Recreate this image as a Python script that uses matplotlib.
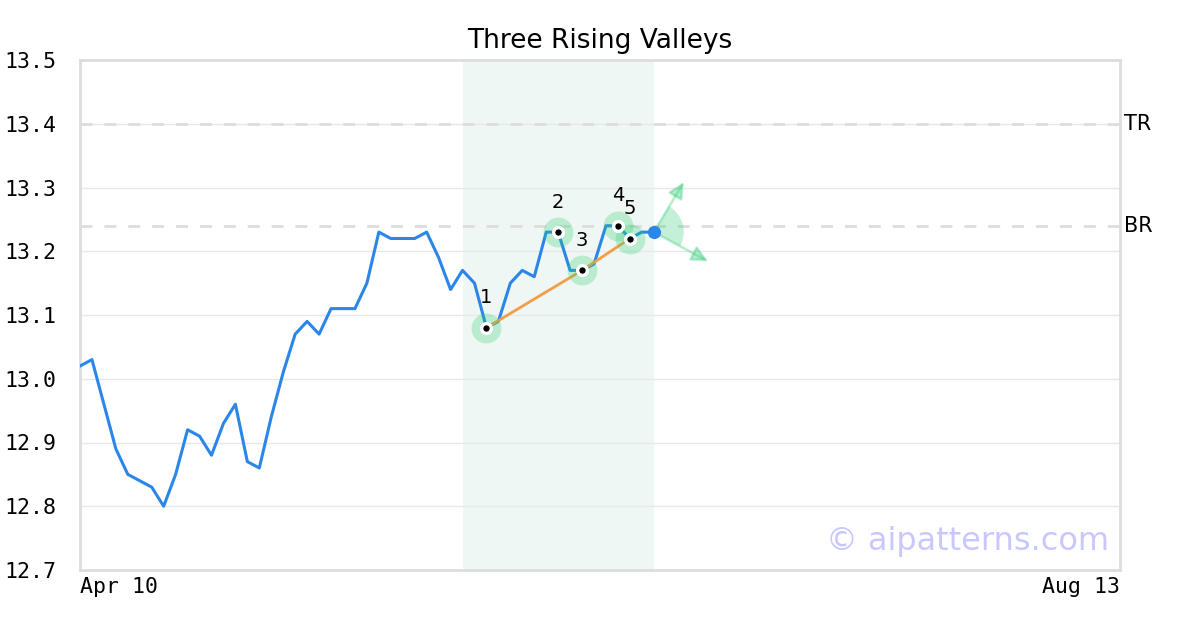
import matplotlib
matplotlib.use("Agg")
import matplotlib.pyplot as plt
from matplotlib.patches import Wedge
from matplotlib.transforms import ScaledTranslation

# price series (one value per bar, index based x axis)
prices = [13.02, 13.03, 12.96, 12.89, 12.85, 12.84, 12.83, 12.80, 12.85, 12.92,
          12.91, 12.88, 12.93, 12.96, 12.87, 12.86, 12.94, 13.01, 13.07, 13.09,
          13.07, 13.11, 13.11, 13.11, 13.15, 13.23, 13.22, 13.22, 13.22, 13.23,
          13.19, 13.14, 13.17, 13.15, 13.08, 13.09, 13.15, 13.17, 13.16, 13.23,
          13.23, 13.17, 13.17, 13.18, 13.24, 13.24, 13.22, 13.23, 13.23]
n_total = 88  # bars covered by the x axis
x_labels = ["Apr 10", "Aug 13"]

# pattern pivots
pivot_idx = [34, 40, 42, 45, 46]
pivot_names = ["1", "2", "3", "4", "5"]
valley_idx = [34, 42, 46]
pattern_span = (32, 48)

# resistance levels
levels = {"TR": 13.40, "BR": 13.24}

y_ticks = [12.7, 12.8, 12.9, 13.0, 13.1, 13.2, 13.3, 13.4, 13.5]

blue = "#2a86e8"
green = "#2ecc71"
grey = "#dddddd"

fig = plt.figure(figsize=(12, 6.3), dpi=100)
ax = fig.add_axes([80 / 1200, 60 / 630, 1040 / 1200, 510 / 630])

x = list(range(len(prices)))
ax.axvspan(*pattern_span, color="#eff7f4", zorder=0, lw=0)

for yv in y_ticks[1:-1]:
    ax.axhline(yv, color="#e8e8e8", lw=1, zorder=1)
for name, yv in levels.items():
    ax.axhline(yv, color=grey, lw=2, dashes=(4.3, 4.3), zorder=1)
    ax.text(1.004, yv, name, transform=ax.get_yaxis_transform(), va="center",
            ha="left", fontsize=15, family="DejaVu Sans")

ax.plot(x, prices, color=blue, lw=2.2, zorder=3)

# line through the rising valleys
ax.plot(valley_idx, [prices[i] for i in valley_idx], color="#f59d45", lw=2.0, zorder=4)

px = pivot_idx
py = [prices[i] for i in pivot_idx]
ax.plot(px, py, "o", ms=21.5, color=green, alpha=0.28, mec="none", zorder=4)
ax.plot(px, py, "o", ms=7, mfc="black", mec="white", mew=2.4, zorder=5)
for i, name in zip(pivot_idx, pivot_names):
    ax.annotate(name, (i, prices[i]), xytext=(0, 30), textcoords="offset pixels",
                ha="center", va="center", fontsize=14, zorder=6)

# last bar and projection arrows
lx, ly = len(prices) - 1, prices[-1]
trans = fig.dpi_scale_trans + ScaledTranslation(lx, ly, ax.transData)
ax.add_patch(Wedge((0, 0), 0.30, -28, 59, transform=trans, color=green,
                   alpha=0.28, lw=0, zorder=3))
for dx, dy in [(30, 50), (54, -29)]:
    ax.annotate("", xy=(lx, ly), xytext=(dx, dy), textcoords="offset pixels",
                arrowprops=dict(arrowstyle="<|-,head_length=0.8,head_width=0.4",
                                mutation_scale=12, color=green, alpha=0.35, lw=1.8,
                                shrinkA=0, shrinkB=0), zorder=3)
ax.plot([lx], [ly], "o", ms=8.5, color=blue, zorder=6)

ax.set_xlim(0, n_total - 1)
ax.set_ylim(12.7, 13.5)
ax.set_yticks(y_ticks)
ax.set_yticklabels([f"{v:.1f}" for v in y_ticks], family="DejaVu Sans Mono", fontsize=15.5)
ax.set_xticks([0, n_total - 1])
xt = ax.set_xticklabels(x_labels, family="DejaVu Sans Mono", fontsize=15.5)
xt[0].set_ha("left")
xt[1].set_ha("right")
ax.tick_params(axis="y", length=0, pad=17)
ax.tick_params(axis="x", length=0, pad=5)

for sp in ax.spines.values():
    sp.set_color(grey)
    sp.set_linewidth(2)

ax.set_title("Three Rising Valleys", fontsize=19, pad=9)
ax.text(0.99, 0.025, "\u00a9 aipatterns.com", transform=ax.transAxes, ha="right",
        va="bottom", fontsize=23, color="#c8c8ff", zorder=2)

fig.savefig("out.png", dpi=100)
